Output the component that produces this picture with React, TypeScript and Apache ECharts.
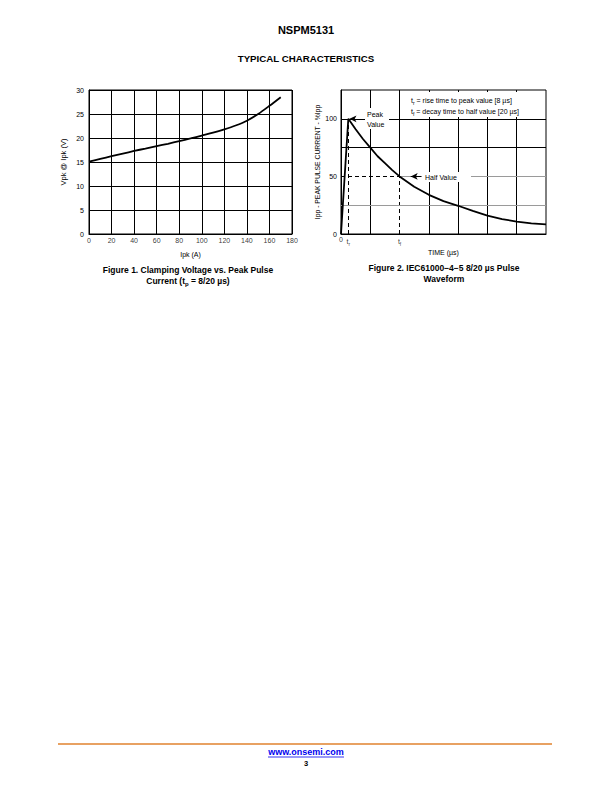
import React, { useEffect, useRef } from "react";
import * as echarts from "echarts";

// ---------- Figure 1 data ----------
const fig1Ipk = [0, 10, 20, 30, 40, 50, 60, 70, 80, 90, 100, 110, 120, 130, 140, 150, 160, 170];
const fig1Vpk = [15.1, 15.65, 16.2, 16.75, 17.3, 17.8, 18.3, 18.8, 19.35, 19.9, 20.5, 21.1, 21.8, 22.6, 23.6, 25.0, 26.7, 28.5];
const fig1XTicks = [0, 20, 40, 60, 80, 100, 120, 140, 160, 180];

// ---------- Figure 2 data ----------
const fig2Time = [0, 2.5, 5, 7.5, 10, 12.5, 15, 17.5, 20, 25, 30, 35, 40, 45, 50, 55, 60, 65, 70];
const fig2Ipp = [0, 100, 91, 82.5, 75, 67.5, 61.5, 55.5, 50, 41, 34, 28.5, 24.5, 20, 16, 13, 10.8, 9.3, 8.3];
const fig2TickValues = [0, 2.5, 20];
const fig2TickLabels = ["0", "t{s|r}", "t{s|f}"];
const fig2YLabels = [0, 50, 100];
const fig2Tr = 2.5;
const fig2Tf = 20;
const fig2SolidV = [10, 30, 40, 50, 60];

const FONT = '"Liberation Sans", Arial, Helvetica, sans-serif';

export default function App() {
  const ref = useRef<HTMLDivElement>(null);

  useEffect(() => {
    if (!ref.current) return;
    const chart = echarts.init(ref.current, null, { renderer: "svg" });

    const black = "#000";
    const gray = "#9a9a9a";
    const seg = (a: number[], b: number[], ls: any) => [
      { coord: a, lineStyle: ls },
      { coord: b, lineStyle: ls },
    ];
    const solid = { color: black, width: 1, type: "solid" };
    const dashed = { color: black, width: 1, type: [4, 3] };
    const grayLs = { color: gray, width: 1.2, type: "solid" };

    const gridMarks: any[] = [];
    fig2SolidV.forEach((x) => gridMarks.push(seg([x, 0], [x, 125], solid)));
    gridMarks.push(seg([fig2Tf, 50], [fig2Tf, 125], solid));
    gridMarks.push(seg([fig2Tf, 0], [fig2Tf, 50], dashed));
    gridMarks.push(seg([fig2Tr, 0], [fig2Tr, 100], dashed));
    gridMarks.push(seg([0, 75], [70, 75], solid));
    gridMarks.push(seg([0, 100], [70, 100], solid));
    gridMarks.push(seg([0, 25], [70, 25], grayLs));
    gridMarks.push(seg([0, 50], [fig2Tf, 50], dashed));
    gridMarks.push(seg([fig2Tf, 50], [70, 50], grayLs));

    const txt = (text: string, x: number, y: number, size: number, opts: any = {}) => ({
      type: "text",
      x,
      y,
      z: 100,
      style: {
        text,
        fill: opts.fill || "#000",
        fontSize: size,
        fontWeight: opts.bold ? "bold" : "normal",
        fontFamily: FONT,
        textAlign: opts.align || "center",
        textVerticalAlign: "middle",
        rich: opts.rich,
      },
    });

    const subRich = (size: number, lh: number, bold = false) => ({
      s: { fontSize: size, fontFamily: FONT, fontWeight: bold ? "bold" : "normal", verticalAlign: "bottom", lineHeight: lh, fill: "#000" },
    });

    const option: any = {
      animation: false,
      textStyle: { fontFamily: FONT },
      grid: [
        { left: 89, top: 90, width: 203, height: 144, show: true, borderColor: black, borderWidth: 1, backgroundColor: "transparent" },
        { left: 341, top: 90, width: 205, height: 144, show: true, borderColor: black, borderWidth: 1, backgroundColor: "transparent" },
      ],
      xAxis: [
        {
          type: "value",
          gridIndex: 0,
          min: 0,
          max: 180,
          interval: 20,
          axisLine: { lineStyle: { color: black, width: 1 } },
          axisTick: { show: false },
          axisLabel: { show: false },
          splitLine: { show: true, lineStyle: { color: black, width: 1 } },
          name: "Ipk (A)",
          nameLocation: "middle",
          nameGap: 17,
          nameTextStyle: { color: black, fontSize: 7, fontFamily: FONT },
        },
        {
          type: "value",
          gridIndex: 1,
          min: 0,
          max: 70,
          interval: 10,
          axisLine: { lineStyle: { color: black, width: 1 } },
          axisTick: { show: false },
          axisLabel: { show: false },
          splitLine: { show: false },
          name: "TIME (µs)",
          nameLocation: "middle",
          nameGap: 15,
          nameTextStyle: { color: black, fontSize: 7, fontFamily: FONT },
        },
      ],
      yAxis: [
        {
          type: "value",
          gridIndex: 0,
          min: 0,
          max: 30,
          interval: 5,
          axisLine: { show: true, lineStyle: { color: black, width: 1 } },
          axisTick: { show: false },
          axisLabel: { color: black, fontSize: 7, margin: 5, fontFamily: FONT },
          splitLine: { show: true, lineStyle: { color: black, width: 1 } },
          name: "Vpk @ Ipk (V)",
          nameLocation: "middle",
          nameGap: 22,
          nameTextStyle: { color: black, fontSize: 7.5, fontFamily: FONT },
        },
        {
          type: "value",
          gridIndex: 1,
          min: 0,
          max: 125,
          interval: 25,
          axisLine: { show: true, lineStyle: { color: black, width: 1 } },
          axisTick: { show: false },
          axisLabel: {
            color: black,
            fontSize: 7,
            margin: 4,
            fontFamily: FONT,
            formatter: (v: number) => (fig2YLabels.includes(v) ? String(v) : ""),
          },
          splitLine: { show: false },
          name: "Ipp - PEAK PULSE CURRENT - %Ipp",
          nameLocation: "middle",
          nameGap: 20,
          nameTextStyle: { color: black, fontSize: 6.8, fontFamily: FONT },
        },
      ],
      series: [
        {
          type: "line",
          xAxisIndex: 0,
          yAxisIndex: 0,
          data: fig1Ipk.map((x, i) => [x, fig1Vpk[i]]),
          showSymbol: false,
          smooth: 0.3,
          lineStyle: { color: black, width: 1.8 },
          z: 5,
        },
        {
          type: "scatter",
          xAxisIndex: 0,
          yAxisIndex: 0,
          symbolSize: 0,
          silent: true,
          data: fig1XTicks.map((x) => ({ value: [x, 0], name: String(x) })),
          label: {
            show: true,
            position: "bottom",
            distance: 3,
            formatter: (p: any) => p.name,
            color: black,
            fontSize: 7,
            fontFamily: FONT,
          },
          z: 6,
        },
        {
          type: "line",
          xAxisIndex: 1,
          yAxisIndex: 1,
          data: fig2Time.map((x, i) => [x, fig2Ipp[i]]),
          showSymbol: false,
          lineStyle: { color: black, width: 1.8 },
          z: 5,
          markLine: {
            silent: true,
            symbol: ["none", "none"],
            label: { show: false },
            data: gridMarks,
            z: 3,
          },
        },
        {
          type: "scatter",
          xAxisIndex: 1,
          yAxisIndex: 1,
          symbolSize: 0,
          silent: true,
          data: fig2TickValues.map((x, i) => ({ value: [x, 0], name: fig2TickLabels[i] })),
          label: {
            show: true,
            position: "bottom",
            distance: 2,
            formatter: (p: any) => p.name,
            color: black,
            fontSize: 7,
            fontFamily: FONT,
            rich: subRich(5, 10),
          },
          markLine: {
            silent: true,
            symbol: ["none", "arrow"],
            symbolSize: [5, 7],
            label: { show: false },
            lineStyle: { color: black, width: 1, type: "solid" },
            data: [
              [{ coord: [8.2, 100] }, { coord: [2.9, 100] }],
              [{ coord: [27.4, 50] }, { coord: [23.8, 50] }],
            ],
            z: 6,
          },
          z: 6,
        },
      ],
      graphic: [
        txt("NSPM5131", 306, 30, 11, { bold: true }),
        txt("TYPICAL CHARACTERISTICS", 306, 58, 9.7, { bold: true }),
        txt("Figure 1. Clamping Voltage vs. Peak Pulse", 188, 270, 8.5, { bold: true }),
        txt("Current (t{s|p} = 8/20 µs)", 188, 281, 8.5, { bold: true, rich: subRich(6, 12.5, true) }),
        txt("Figure 2. IEC61000−4−5 8/20 µs Pulse", 444, 268, 8.5, { bold: true }),
        txt("Waveform", 444, 279, 8.5, { bold: true }),
        {
          type: "rect",
          z: 99,
          shape: { x: 404, y: 92, width: 141, height: 25 },
          style: { fill: "#fff" },
        },
        txt("t{s|r} = rise time to peak value [8 µs]", 411, 100, 7, { align: "left", rich: subRich(5, 10) }),
        txt("t{s|f} = decay time to half value [20 µs]", 411, 111, 7, { align: "left", rich: subRich(5, 10) }),
        {
          type: "rect",
          z: 99,
          shape: { x: 365, y: 108, width: 24, height: 21 },
          style: { fill: "#fff" },
        },
        txt("Peak", 367, 114, 7, { align: "left" }),
        txt("Value", 367, 124, 7, { align: "left" }),
        {
          type: "rect",
          z: 99,
          shape: { x: 422, y: 172, width: 49, height: 10 },
          style: { fill: "#fff" },
        },
        txt("Half Value", 425, 177, 7, { align: "left" }),
        {
          type: "line",
          z: 100,
          shape: { x1: 58, y1: 744, x2: 552, y2: 744 },
          style: { stroke: "#E0822E", lineWidth: 1.6 },
        },
        txt("www.onsemi.com", 306, 752, 9, { bold: true, fill: "#0000EE" }),
        {
          type: "line",
          z: 100,
          shape: { x1: 268, y1: 757, x2: 344, y2: 757 },
          style: { stroke: "#0000EE", lineWidth: 0.8 },
        },
        txt("3", 306, 763, 7.5, { bold: true }),
      ],
    };

    chart.setOption(option);
    return () => chart.dispose();
  }, []);

  return (
    <div
      ref={ref}
      style={{ position: "absolute", left: 0, top: 0, width: 612, height: 792, background: "#fff" }}
    />
  );
}
